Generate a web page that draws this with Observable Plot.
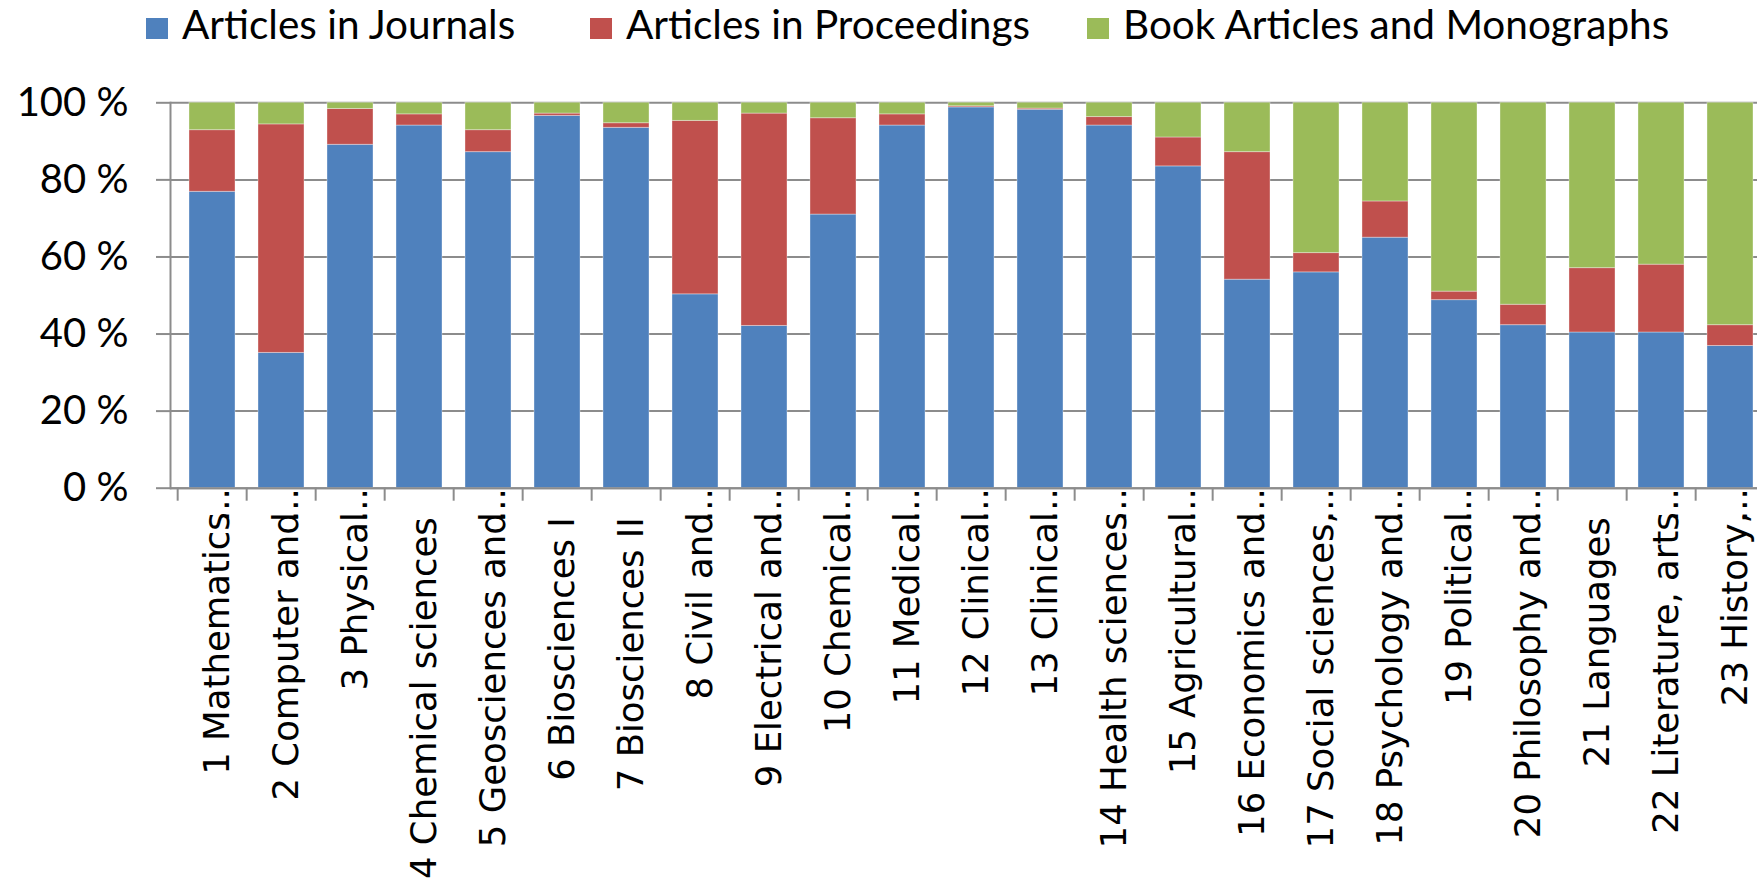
<!DOCTYPE html>
<html><head><meta charset="utf-8">
<script src="https://cdn.jsdelivr.net/npm/d3@7"></script>
<script src="https://cdn.jsdelivr.net/npm/@observablehq/plot@0.6"></script>
<style>
html,body{margin:0;padding:0;background:#fff;overflow:hidden;width:1757px;height:878px}
#legend{position:relative;height:58px;font-family:Lato,sans-serif;font-size:40.5px;color:#000}
.sw{position:absolute;top:18px;width:22px;height:21px}
.lt{position:absolute;top:3.5px;line-height:1;white-space:nowrap}
#chart{width:1757px;overflow:hidden}
#chart svg{display:block;overflow:visible;max-width:none !important;}
#chart svg g[aria-label="x-axis ellipsis"] text{letter-spacing:-3px}
</style></head><body>
<div id="legend"></div><div id="chart"></div>
<script>
const categories = ["1 Mathematics…","2 Computer and…","3 Physical…","4 Chemical sciences","5 Geosciences and…","6 Biosciences I","7 Biosciences II","8 Civil and…","9 Electrical and…","10 Chemical…","11 Medical…","12 Clinical…","13 Clinical…","14 Health sciences…","15 Agricultural…","16 Economics and…","17 Social sciences,…","18 Psychology and…","19 Political…","20 Philosophy and…","21 Languages","22 Literature, arts…","23 History,…"];
const journals    = [76.9,35.1,89.1,94.1,87.2,96.6,93.5,50.3,42.1,71.0,94.1,98.8,98.2,94.1,83.5,54.1,56.0,65.0,48.8,42.3,40.4,40.4,36.9];
const proceedings = [16.0,59.3, 9.3, 2.9, 5.7, 0.6, 1.2,45.0,55.1,25.0, 2.9, 0.3, 0.3, 2.2, 7.5,33.1, 5.0, 9.4, 2.2, 5.3,16.7,17.6, 5.4];
const books       = [ 7.1, 5.6, 1.6, 3.0, 7.1, 2.8, 5.3, 4.7, 2.8, 4.0, 3.0, 0.9, 1.5, 3.7, 9.0,12.8,39.0,25.6,49.0,52.4,42.9,42.0,57.7];
const seriesNames = ["Articles in Journals","Articles in Proceedings","Book Articles and Monographs"];
const yTicks = [0,20,40,60,80,100];

const seriesColors = ["#4F81BD","#C0504D","#9BBB59"];
const legendLeft = [146,590,1087];

const legend = document.getElementById("legend");
seriesNames.forEach((name,i)=>{
  const sw = document.createElement("div");
  sw.className="sw"; sw.style.left=legendLeft[i]+"px"; sw.style.background=seriesColors[i];
  const t = document.createElement("span");
  t.className="lt"; t.style.left=(legendLeft[i]+36)+"px"; t.textContent=name;
  legend.append(sw,t);
});

const series = [journals, proceedings, books];
const rows = categories.flatMap((c,i)=>seriesNames.map((s,k)=>({category:c, series:s, value:series[k][i]})));
const truncated = categories.filter(c => c.endsWith("…"));
const complete = categories.filter(c => !c.endsWith("…"));

const W = 1772.4, mL = 170, mR = 0;
const step = (W - mL - mR) / categories.length;
const gridColor = "#8c8c8c";
const labelFont = {tickSize: 0, tickRotate: -90, fontSize: 35.5, fontFamily: "DejaVu Sans", fill: "black", label: null, dx: 5};

const chart = Plot.plot({
  width: W, height: 820,
  marginLeft: mL, marginRight: mR, marginTop: 44.3, marginBottom: 390.3,
  style: {background:"white", overflow:"visible", maxWidth:"none"},
  x: {domain: categories, paddingInner: 0.336, paddingOuter: 0.168, axis: null, label: null},
  y: {domain: [0,100], axis: null, label: null},
  color: {domain: seriesNames, range: seriesColors},
  marks: [
    Plot.gridY(yTicks, {stroke: gridColor, strokeOpacity: 1, strokeWidth: 2}),
    Plot.barY(rows, {x: "category", y: "value", fill: "series", stroke: "white", strokeOpacity: 0.35, strokeWidth: 1}),
    Plot.axisY(yTicks, {label: null, tickSize: 14, tickPadding: 28, tickFormat: d => d + " %", stroke: gridColor, strokeWidth: 2, fontSize: 40, fontFamily: "Lato", fill: "black"}),
    Plot.frame({anchor: "left", stroke: gridColor, strokeWidth: 2}),
    Plot.ruleY([0], {stroke: gridColor, strokeWidth: 2}),
    Plot.axisX(categories, {label: null, tickSize: 13, tickFormat: () => "", dx: -step/2, stroke: gridColor, strokeWidth: 2}),
    Plot.axisX(complete, {...labelFont, tickPadding: 29}),
    Plot.axisX(truncated, {...labelFont, tickPadding: 24, tickFormat: c => c.slice(0, -1)}),
    Plot.axisX(truncated, {...labelFont, tickPadding: 0, tickFormat: () => "...", ariaLabel: "x-axis ellipsis"})
  ]
});
chart.style.maxWidth = "none";
chart.style.width = W + "px";
chart.style.height = "820px";
document.getElementById("chart").append(chart);
</script>
</body></html>
